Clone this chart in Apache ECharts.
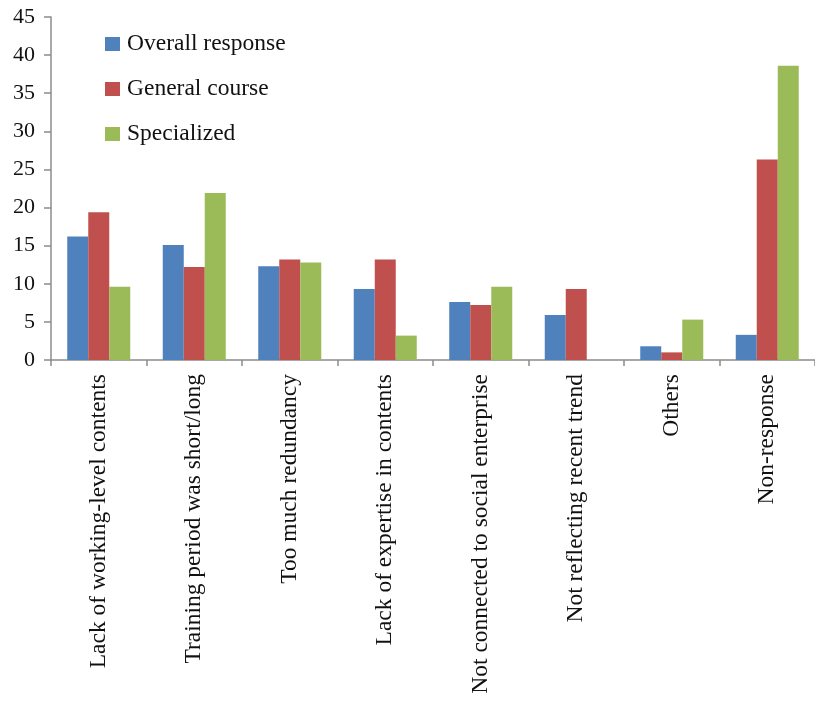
<!DOCTYPE html>
<html>
<head>
<meta charset="utf-8">
<script src="https://cdn.jsdelivr.net/npm/echarts@6/dist/echarts.min.js"></script>
<style>
html,body{margin:0;padding:0;background:#fff;}
#chart{width:815px;height:702px;}
</style>
</head>
<body>
<div id="chart"></div>
<script>
const categories = [
  "Lack of working-level contents",
  "Training period was short/long",
  "Too much redundancy",
  "Lack of expertise in contents",
  "Not connected to social enterprise",
  "Not reflecting recent trend",
  "Others",
  "Non-response"
];
const overallResponse = [16.2, 15.1, 12.3, 9.3, 7.6, 5.9, 1.8, 3.3];
const generalCourse   = [19.4, 12.2, 13.2, 13.2, 7.2, 9.3, 1.0, 26.3];
const specialized     = [9.6, 21.9, 12.8, 3.2, 9.6, 0, 5.3, 38.6];
const yTicks = [0, 5, 10, 15, 20, 25, 30, 35, 40, 45];

const font = "'Liberation Serif', 'DejaVu Serif', serif";
const chart = echarts.init(document.getElementById('chart'));
const mkSeries = (name, data, color) => ({
  name, type: 'bar', data,
  barWidth: 21, barGap: '0%',
  itemStyle: { color, borderWidth: 0 }
});
chart.setOption({
  animation: false,
  backgroundColor: '#fff',
  textStyle: { fontFamily: font },
  grid: { left: 51, right: -4, top: 17, bottom: 342, containLabel: false },
  legend: {
    orient: 'vertical', left: 100, top: 27,
    itemWidth: 15, itemHeight: 14, itemGap: 21,
    icon: 'rect',
    textStyle: { fontFamily: font, fontSize: 23.5, color: '#111', padding: [0, 0, 0, 2], lineHeight: 23 },
    data: ['Overall response', 'General course', 'Specialized']
  },
  xAxis: {
    type: 'category', data: categories, boundaryGap: true,
    axisLine: { lineStyle: { color: '#8c8c8c', width: 1.5 } },
    axisTick: { show: true, alignWithLabel: false, length: 6, lineStyle: { color: '#8c8c8c', width: 1.5 } },
    axisLabel: { rotate: 90, interval: 0, fontFamily: font, fontSize: 23.5, color: '#111', margin: 14 }
  },
  yAxis: {
    type: 'value', min: yTicks[0], max: yTicks[yTicks.length - 1], interval: 5,
    splitLine: { show: false },
    axisLine: { show: true, lineStyle: { color: '#8c8c8c', width: 1.5 } },
    axisTick: { show: true, length: 7, lineStyle: { color: '#8c8c8c', width: 1.5 } },
    axisLabel: { fontFamily: font, fontSize: 22, color: '#111', margin: 16 }
  },
  series: [
    mkSeries('Overall response', overallResponse, '#4F81BD'),
    mkSeries('General course', generalCourse, '#C0504D'),
    mkSeries('Specialized', specialized, '#9BBB59')
  ]
});
</script>
</body>
</html>
